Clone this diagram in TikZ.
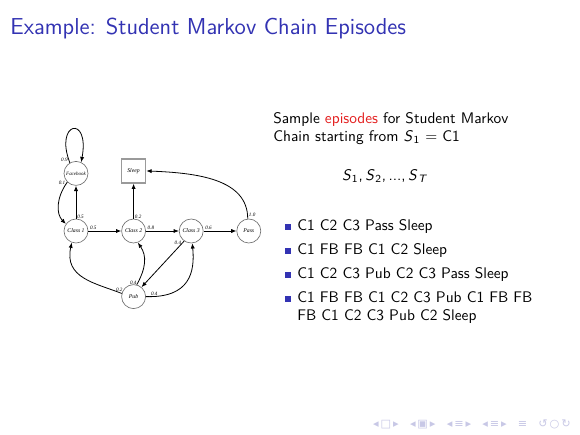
\documentclass[tikz,border=0pt]{standalone}
\usepackage{fontspec}
\usepackage{xcolor}
\usetikzlibrary{arrows.meta, positioning, calc}
\newfontfamily\graphfont{Liberation Serif}
\newfontfamily\navfont{DejaVu Sans}
\definecolor{structblue}{RGB}{51,51,179}
\definecolor{alertred}{RGB}{228,32,32}
\definecolor{navgray}{RGB}{200,200,230}
\definecolor{ringgray}{HTML}{6E6E6E}
\definecolor{boxgray}{HTML}{9A9A9A}
\newcommand{\sv}[1]{\textit{S}\kern0.04em\textsubscript{#1}}

\begin{document}
\begin{tikzpicture}[
    x=0.625pt, y=-0.625pt,
    node distance = 20.6pt,
    every node/.style = {font=\sffamily},
    state/.style = {circle, draw=ringgray, line width=0.4pt, minimum size=15pt,
                    inner sep=0pt, font=\graphfont\itshape\fontsize{3.6}{4}\selectfont},
    sink/.style = {rectangle, draw=boxgray, line width=0.9pt, minimum size=15pt,
                   inner sep=0pt, font=\graphfont\itshape\fontsize{3.6}{4}\selectfont},
    lbl/.style = {inner sep=0.6pt, font=\graphfont\itshape\fontsize{3.2}{3.5}\selectfont},
    arr/.style = {-{Latex[length=3.3pt, width=2.6pt]}, line width=0.5pt},
    slidetext/.style = {anchor=base west, inner sep=0pt,
                        font=\sffamily\fontsize{9.6}{11.5}\selectfont},
    bulletsq/.style = {rectangle, fill=structblue, minimum size=3.7pt, inner sep=0pt},
  ]
  \useasboundingbox[fill=white] (0,0) rectangle (580,435);

  %% Title
  \node[anchor=base west, inner sep=0pt, text=structblue,
        font=\sffamily\fontsize{14.4}{17}\selectfont] (title) at (10,34)
        {Example: Student Markov Chain Episodes};

  %% Nodes
  \node[state] (c1) at (76,231) {Class 1};
  \node[state, right=of c1] (c2) {Class 2};
  \node[state, right=of c2] (c3) {Class 3};
  \node[state, right=of c3] (pass) {Pass};
  \node[state, above=of c1, font=\graphfont\itshape\fontsize{3.1}{3.4}\selectfont] (fb) {Facebook};
  \node[sink, above=21.9pt of c2] (sleep) {Sleep};
  \node[state, below=25.6pt of c2] (pub) {Pub};

  %% Edges
  \draw[arr] (fb.120) .. controls (54,122) and (90,114) .. (fb.65)
        node[lbl, pos=0.02, left] {0.9};
  \draw[arr] (fb.225) .. controls (56,198) and (56,214) .. (c1.145)
        node[lbl, pos=0.02, left] {0.1};
  \draw[arr] (c1) -- node[lbl, pos=0.06, right] {0.5} (fb);
  \draw[arr] (c1) -- node[lbl, pos=0.15, above] {0.5} (c2);
  \draw[arr] (c2) -- node[lbl, pos=0.06, right] {0.2} (sleep);
  \draw[arr] (c2) -- node[lbl, pos=0.15, above] {0.8} (c3);
  \draw[arr] (c3) -- node[lbl, pos=0.15, above] {0.6} (pass);
  \draw[arr] (c3.235) -- node[lbl, pos=0.04, left] {0.4} (pub.50);
  \draw[arr] (pass.95) .. controls +(0,-40) and +(50,2) .. (sleep.east)
        node[lbl, pos=0.03, right] {1.0};
  \draw[arr] (pub.165) .. controls (95,283) and (64,278) .. (c1.250)
        node[lbl, pos=0.03, above] {0.2};
  \draw[arr] (pub.75) .. controls (146,268) and (147,256) .. (c2.290)
        node[lbl, pos=0.04, left] {0.4};
  \draw[arr] (pub.east) .. controls (190,298) and (195,272) .. (c3.275)
        node[lbl, pos=0.03, above right] {0.4};

  %% Episodes text
  \node[slidetext] (intro1) at (273,123)
        {Sample \textcolor{alertred}{episodes} for Student Markov};
  \node[slidetext] (intro2) at (273,141)
        {Chain starting from \sv{1} = C1};
  \node[anchor=base, inner sep=0pt, font=\sffamily\fontsize{9.6}{11.5}\selectfont]
        (seq) at (385,180) {\sv{1},\,\sv{2},\,...,\,\sv{\textit{T}}};

  \node[bulletsq] (b1) at (288,227) {};
  \node[slidetext] (ep1) at (297,230.5) {C1 C2 C3 Pass Sleep};
  \node[bulletsq] (b2) at (288,251) {};
  \node[slidetext] (ep2) at (297,254.5) {C1 FB FB C1 C2 Sleep};
  \node[bulletsq] (b3) at (288,275) {};
  \node[slidetext] (ep3) at (297,278.5) {C1 C2 C3 Pub C2 C3 Pass Sleep};
  \node[bulletsq] (b4) at (288,299) {};
  \node[slidetext] (ep4) at (297,302.5) {C1 FB FB C1 C2 C3 Pub C1 FB FB};
  \node[slidetext] (ep4b) at (297,320) {FB C1 C2 C3 Pub C2 Sleep};

  %% Navigation symbols
  \node[inner sep=0pt, text=navgray, font=\navfont\fontsize{7}{8}\selectfont]
        (nav) at (472,424) {◂\,□\,▸\quad◂\,▣\,▸\quad◂\,≡\,▸\quad◂\,≡\,▸\quad≡\quad↺\,○\,↻};
\end{tikzpicture}
\end{document}
